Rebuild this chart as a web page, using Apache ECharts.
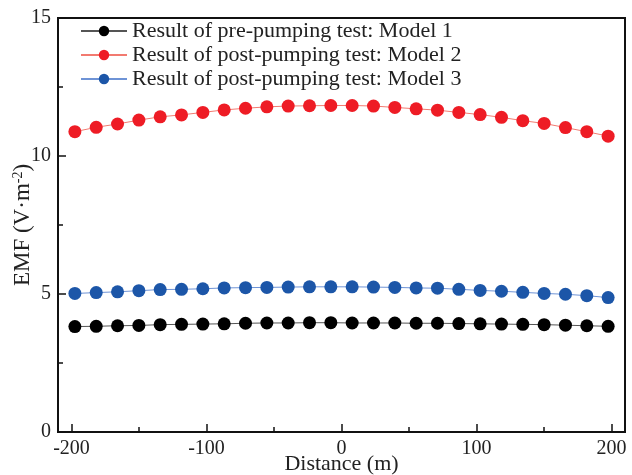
<!DOCTYPE html>
<html>
<head>
<meta charset="utf-8">
<script src="https://cdn.jsdelivr.net/npm/echarts@6/dist/echarts.min.js"></script>
<style>
  html, body { margin: 0; padding: 0; background: #fff; }
  #chart { width: 632px; height: 475px; }
</style>
</head>
<body>
<div id="chart"></div>
<script>
const distance = [-197.5, -181.7, -165.9, -150.1, -134.3, -118.5, -102.7, -86.9, -71.1, -55.3, -39.5, -23.7, -7.9,
  7.9, 23.7, 39.5, 55.3, 71.1, 86.9, 102.7, 118.5, 134.3, 150.1, 165.9, 181.7, 197.5];
const model1 = [3.82, 3.83, 3.85, 3.86, 3.89, 3.90, 3.91, 3.92, 3.94, 3.95, 3.95, 3.96, 3.96,
  3.95, 3.95, 3.95, 3.94, 3.94, 3.93, 3.92, 3.91, 3.90, 3.89, 3.87, 3.85, 3.83];
const model2 = [10.88, 11.04, 11.16, 11.30, 11.42, 11.49, 11.58, 11.67, 11.73, 11.78, 11.81, 11.82, 11.83,
  11.83, 11.81, 11.76, 11.71, 11.66, 11.58, 11.50, 11.40, 11.28, 11.18, 11.03, 10.88, 10.72];
const model3 = [5.02, 5.05, 5.08, 5.12, 5.16, 5.17, 5.19, 5.22, 5.23, 5.24, 5.25, 5.26, 5.26,
  5.26, 5.25, 5.24, 5.22, 5.21, 5.17, 5.13, 5.10, 5.06, 5.02, 4.99, 4.94, 4.87];
const seriesNames = ['Result of pre-pumping test: Model 1', 'Result of post-pumping test: Model 2', 'Result of post-pumping test: Model 3'];
const xMajor = [-200, -100, 0, 100, 200];
const xMinor = [-150, -50, 50, 150];

const font = 'Liberation Serif';
const pairs = (ys) => distance.map((x, i) => [x, ys[i]]);

const myChart = echarts.init(document.getElementById('chart'));
const option = {
  animation: false,
  grid: {
    left: 58, right: 7, top: 18, bottom: 43,
    outerBoundsMode: 'none',
    show: true, borderColor: '#111', borderWidth: 2
  },
  legend: {
    orient: 'vertical',
    left: 75,
    top: 15,
    itemWidth: 46,
    itemHeight: 13,
    itemGap: 2,
    textStyle: { fontFamily: font, fontSize: 22, color: '#222', lineHeight: 22 },
    data: seriesNames
  },
  xAxis: [{
    type: 'value',
    min: -210,
    max: 210,
    name: 'Distance (m)',
    nameLocation: 'middle',
    nameGap: 21,
    nameMoveOverlap: false,
    nameTextStyle: { fontFamily: font, fontSize: 22, color: '#222' },
    axisLine: { onZero: false, lineStyle: { color: '#111', width: 2 } },
    axisTick: { inside: true, length: 8, customValues: xMajor, lineStyle: { color: '#111', width: 1.5 } },
    axisLabel: { customValues: xMajor, fontFamily: font, fontSize: 20, color: '#222', margin: 7 },
    splitLine: { show: false }
  }, {
    type: 'value',
    position: 'bottom',
    min: -210,
    max: 210,
    axisLine: { show: false },
    axisTick: { inside: true, length: 5, customValues: xMinor, lineStyle: { color: '#111', width: 1.5 } },
    axisLabel: { show: false },
    splitLine: { show: false }
  }],
  yAxis: {
    type: 'value',
    min: 0,
    max: 15,
    interval: 5,
    name: '{a|EMF (V·m}{s|-2}{a|)}',
    nameLocation: 'middle',
    nameGap: 23,
    nameMoveOverlap: false,
    nameTextStyle: {
      rich: {
        a: { fontFamily: font, fontSize: 23, color: '#222' },
        s: { fontFamily: font, fontSize: 14, color: '#222', verticalAlign: 'top', padding: [0, 0, 10, 0] }
      }
    },
    axisLine: { show: true, onZero: false, lineStyle: { color: '#111', width: 2 } },
    axisTick: { inside: true, length: 8, lineStyle: { color: '#111', width: 1.5 } },
    minorTick: { show: true, splitNumber: 2, length: 5, lineStyle: { color: '#111', width: 1.5 } },
    axisLabel: { fontFamily: font, fontSize: 20, color: '#222', margin: 7 },
    splitLine: { show: false }
  },
  series: [{
    name: seriesNames[0],
    type: 'line',
    data: pairs(model1),
    symbol: 'circle',
    symbolSize: 13,
    itemStyle: { color: '#000' },
    lineStyle: { color: '#555', width: 1 }
  }, {
    name: seriesNames[1],
    type: 'line',
    data: pairs(model2),
    symbol: 'circle',
    symbolSize: 13,
    itemStyle: { color: '#ee1c25' },
    lineStyle: { color: '#f27a70', width: 1 }
  }, {
    name: seriesNames[2],
    type: 'line',
    data: pairs(model3),
    symbol: 'circle',
    symbolSize: 13,
    itemStyle: { color: '#1c56a8' },
    lineStyle: { color: '#6e93d6', width: 1 }
  }]
};

myChart.setOption(option);
</script>
</body>
</html>
